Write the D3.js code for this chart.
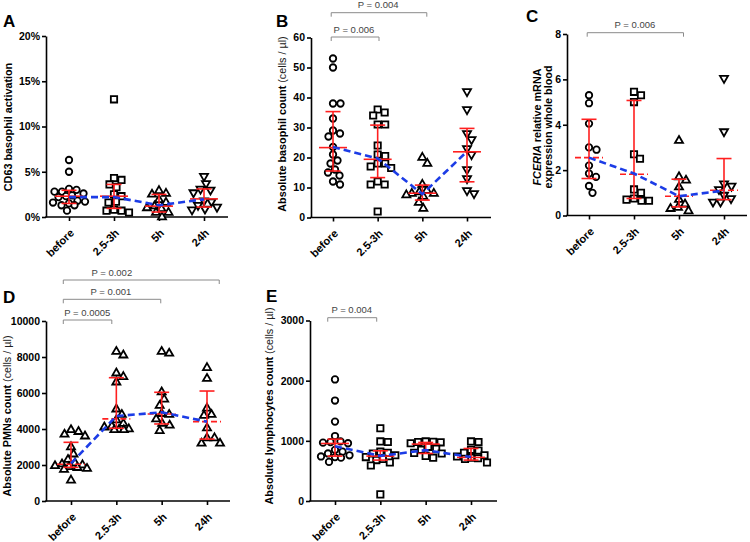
<!DOCTYPE html>
<html>
<head>
<meta charset="utf-8">
<script src="https://cdn.jsdelivr.net/npm/d3@7"></script>
<style>
body { margin: 0; background: #fff; }
text { font-family: "Liberation Sans", Arial, sans-serif; }
</style>
</head>
<body>
<svg id="chart" width="750" height="542"></svg>
<script>
var cats = ["before", "2.5-3h", "5h", "24h"];

// A - CD63 basophil activation (%)
var cd63Points = [
  [6.3, 5.0, 3.1, 3.0, 2.8, 2.8, 2.6, 2.4, 2.3, 2.2, 1.8, 1.7, 1.6, 1.5, 1.3, 1.3, 0.7],
  [13.0, 4.3, 4.1, 3.6, 3.3, 2.5, 2.3, 1.7, 1.6, 0.8, 0.7, 0.7, 0.5],
  [2.9, 2.6, 2.5, 1.9, 1.6, 1.2, 1.0, 0.9, 0.5, 0.5, 0.0],
  [4.5, 3.7, 3.1, 3.0, 2.7, 1.8, 1.7, 1.3, 1.1, 0.9, 0.8]
];
var cd63Median = [2.3, 2.3, 1.2, 2.0];
var cd63Low = [1.5, 0.95, 0.55, 1.1];
var cd63High = [2.95, 3.6, 2.5, 3.1];
var cd63Mean = [2.2, 2.2, 1.3, 1.95];
var cd63Ticks = [0, 5, 10, 15, 20];

// B - absolute basophil count
var basoPoints = [
  [53, 50, 38, 38, 33, 29, 28, 27, 23.5, 21, 19, 18, 16, 15, 14, 12, 11],
  [36, 35, 34, 31, 31, 24, 21, 20.5, 18, 18, 17, 16.5, 12, 11, 11, 2],
  [20, 18, 11, 9, 8.5, 8, 8, 7.5, 7, 5, 3],
  [42, 36, 28, 26, 23, 21, 16, 13, 9, 8]
];
var basoMedian = [23.3, 19.4, 8.1, 21.9];
var basoLow = [15.5, 13.3, 5.8, 11.9];
var basoHigh = [35.3, 30.8, 10.8, 29.7];
var basoMean = [23.5, 19.7, 7.8, 22];
var basoTicks = [0, 10, 20, 30, 40, 50, 60];
var basoP = ["P = 0.006", "P = 0.004"];

// C - FCER1A mRNA
var fcerPoints = [
  [5.3, 4.95, 4.05, 3.0, 2.9, 2.2, 1.85, 1.7, 1.3, 1.0],
  [5.45, 5.3, 5.0, 2.7, 2.5, 1.15, 1.0, 0.75, 0.7, 0.65, 0.65],
  [3.3, 1.7, 1.55, 1.25, 0.7, 0.5, 0.35, 0.3, 0.2],
  [6.05, 3.7, 1.4, 1.3, 1.15, 0.9, 0.75, 0.6, 0.6]
];
var fcerMedian = [2.55, 1.82, 0.85, 1.11];
var fcerLow = [1.63, 0.75, 0.38, 0.7];
var fcerHigh = [4.24, 5.07, 1.6, 2.51];
var fcerMean = [2.55, 1.85, 0.85, 1.1];
var fcerTicks = [0, 2, 4, 6, 8];
var fcerP = ["P = 0.006"];

// D - absolute PMNs count
var pmnPoints = [
  [3950, 3850, 3700, 3600, 3000, 2600, 2300, 2100, 2050, 2000, 1950, 1900, 1850, 1800, 1750, 1150],
  [8300, 8100, 7100, 6900, 6600, 5100, 4800, 4500, 4300, 4150, 4100, 4000, 3950, 3950, 3950],
  [8300, 8200, 6050, 5650, 5300, 4850, 4800, 4550, 4300, 4200, 3900],
  [7400, 6800, 5150, 4800, 4750, 4050, 3500, 3500, 3200, 3200]
];
var pmnMedian = [2040, 4560, 4830, 4410];
var pmnLow = [1870, 4040, 4280, 3440];
var pmnHigh = [3260, 6850, 6040, 6110];
var pmnMean = [2090, 4720, 4930, 4410];
var pmnTicks = [0, 2000, 4000, 6000, 8000, 10000];
var pmnP = ["P = 0.0005", "P = 0.001", "P = 0.002"];

// E - absolute lymphocytes count
var lymPoints = [
  [2020, 1670, 1320, 1080, 990, 980, 970, 960, 850, 820, 790, 760, 740, 730, 720, 650],
  [1210, 990, 980, 820, 800, 790, 760, 730, 700, 680, 640, 590, 110],
  [990, 985, 980, 975, 960, 900, 870, 850, 800, 790, 750, 720],
  [990, 980, 850, 840, 800, 760, 740, 720, 710, 700, 640]
];
var lymMedian = [956, 746, 946, 725];
var lymLow = [746, 680, 790, 680];
var lymHigh = [1028, 834, 973, 873];
var lymMean = [910, 750, 845, 730];
var lymTicks = [0, 1000, 2000, 3000];
var lymP = ["P = 0.004"];

var svg = d3.select("#chart");
var red = "#ff1f1f", blue = "#1c3ce6";

var panels = [
  { letter: "A", lx: 3, ly: 27, x0: 46, x1: 228, c0: 69, c1: 204, y0: 217, y1: 36, max: 20,
    ticks: cd63Ticks, fmt: function(d) { return d + "%"; },
    pts: cd63Points, med: cd63Median, lo: cd63Low, hi: cd63High, mean: cd63Mean,
    shapes: ["circle", "square", "triangle", "down"], medDash: null,
    title: [[{ t: "CD63 basophil activation" }]], tx: [11.5], ty: 127, brackets: [] },
  { letter: "B", lx: 276, ly: 27, x0: 311, x1: 491, c0: 333, c1: 467, y0: 217.5, y1: 37.5, max: 60,
    ticks: basoTicks, fmt: String,
    pts: basoPoints, med: basoMedian, lo: basoLow, hi: basoHigh, mean: basoMean,
    shapes: ["circle", "square", "triangle", "down"], medDash: null,
    title: [[{ t: "Absolute basophil count " }, { t: "(cells / \u00b5l)", n: true }]], tx: [286], ty: 124,
    brackets: [{ a: -0.04, b: 1.03, at: 0.47, y: 37, label: basoP[0] },
               { a: -0.04, b: 2.1, at: 1.01, y: 12.7, label: basoP[1] }] },
  { letter: "C", lx: 526, ly: 22, x0: 567, x1: 747, c0: 589, c1: 724, y0: 215.5, y1: 34, max: 8,
    ticks: fcerTicks, fmt: String,
    pts: fcerPoints, med: fcerMedian, lo: fcerLow, hi: fcerHigh, mean: fcerMean,
    shapes: ["circle", "square", "triangle", "down"], medDash: "6,3",
    title: [[{ t: "FCERIA", i: true }, { t: " relative mRNA" }], [{ t: "expression whole blood" }]],
    tx: [541, 551.5], ty: 127,
    brackets: [{ a: -0.04, b: 2.1, at: 1.02, y: 32.7, label: fcerP[0] }] },
  { letter: "D", lx: 3, ly: 303, x0: 46, x1: 230, c0: 71, c1: 207, y0: 501, y1: 321, max: 10000,
    ticks: pmnTicks, fmt: String,
    pts: pmnPoints, med: pmnMedian, lo: pmnLow, hi: pmnHigh, mean: pmnMean,
    shapes: ["triangle", "triangle", "triangle", "triangle"], medDash: "6,3",
    title: [[{ t: "Absolute PMNs count " }, { t: "(cells / \u00b5l)", n: true }]], tx: [10.5], ty: 416,
    brackets: [{ a: -0.17, b: 0.9, at: 0.36, y: 320, label: pmnP[0] },
               { a: -0.17, b: 1.98, at: 0.88, y: 299.3, label: pmnP[1] },
               { a: -0.17, b: 3.27, at: 0.9, y: 280, label: pmnP[2] }] },
  { letter: "E", lx: 266, ly: 302, x0: 310, x1: 497, c0: 335, c1: 471, y0: 501, y1: 320.5, max: 3000,
    ticks: lymTicks, fmt: String,
    pts: lymPoints, med: lymMedian, lo: lymLow, hi: lymHigh, mean: lymMean,
    shapes: ["circle", "square", "square", "square"], medDash: null,
    title: [[{ t: "Absolute lymphocytes count " }, { t: "(cells / \u00b5l)", n: true }]], tx: [273], ty: 406,
    brackets: [{ a: -0.16, b: 0.92, at: 0.37, y: 317.7, label: lymP[0] }] }
];

var symPath = {
  circle: d3.symbol(d3.symbolCircle, 33)(),
  square: d3.symbol(d3.symbolSquare, 40)(),
  triangle: d3.symbol(d3.symbolTriangle, 28)()
};
symPath.down = symPath.triangle;

// beeswarm kept inside +-maxOff; if it gets crowded, take the least overlapping spot
function swarm(vals, y, cx, d, maxOff) {
  var placed = [];
  return vals.map(function(v) {
    var py = y(v), best = 0, bestDist = -1;
    for (var k = 0; k <= maxOff * 4; k++) {
      var off = (k % 2 ? 1 : -1) * Math.ceil(k / 2) * 0.5;
      var m = Infinity;
      placed.forEach(function(p) {
        var dx = p.x - (cx + off), dy = p.y - py;
        m = Math.min(m, Math.sqrt(dx * dx + dy * dy));
      });
      if (m >= d) { best = off; bestDist = m; break; }
      if (m > bestDist + 0.5) { best = off; bestDist = m; }
    }
    var pt = { x: cx + best, y: py };
    placed.push(pt);
    return pt;
  });
}

function drawPanel(p) {
  var g = svg.append("g");
  var x = d3.scalePoint().domain(cats).range([p.c0, p.c1]);
  var xi = d3.scaleLinear().domain([0, 3]).range([p.c0, p.c1]);
  var y = d3.scaleLinear().domain([0, p.max]).range([p.y0, p.y1]);

  g.append("text").attr("x", p.lx).attr("y", p.ly).text(p.letter)
    .attr("font-size", 17).attr("font-weight", "bold");

  var ya = g.append("g").attr("transform", "translate(" + p.x0 + ",0)")
    .call(d3.axisLeft(y).tickValues(p.ticks).tickFormat(p.fmt).tickSize(4).tickSizeOuter(0).tickPadding(2));
  ya.selectAll("path,line").attr("stroke-width", 1.6);
  ya.selectAll("text").attr("font-size", 10.5).attr("font-weight", "bold")
    .attr("font-family", "Liberation Sans, Arial, sans-serif");

  var xa = g.append("g").attr("transform", "translate(0," + p.y0 + ")")
    .call(d3.axisBottom(x).tickSize(4).tickFormat(""));
  xa.select(".domain").remove();
  xa.selectAll("line").attr("stroke-width", 1.6);
  g.append("line").attr("x1", p.x0 - 0.8).attr("x2", p.x1).attr("y1", p.y0).attr("y2", p.y0)
    .attr("stroke", "#000").attr("stroke-width", 1.6);

  g.selectAll(".xl").data(cats).enter().append("text")
    .attr("transform", function(d) { return "translate(" + (x(d) + 3) + "," + (p.y0 + 14) + ") rotate(-45)"; })
    .attr("text-anchor", "end").attr("dy", "0.35em")
    .attr("font-size", 11).attr("font-weight", "bold").text(function(d) { return d; });

  // axis title
  p.title.forEach(function(line, li) {
    var t = g.append("text")
      .attr("transform", "translate(" + p.tx[li] + "," + p.ty + ") rotate(-90)")
      .attr("text-anchor", "middle").attr("font-size", 10.8).attr("font-weight", "bold");
    line.forEach(function(s) {
      var ts = t.append("tspan").text(s.t);
      if (s.n) ts.attr("font-weight", "normal").attr("fill", "#222");
      if (s.i) ts.attr("font-style", "italic");
    });
  });

  // points
  cats.forEach(function(c, i) {
    var pts = swarm(p.pts[i], y, x(c), 7.5, 16);
    g.selectAll(".pt" + i).data(pts).enter().append("path")
      .attr("d", symPath[p.shapes[i]])
      .attr("transform", function(d) {
        return "translate(" + d.x + "," + d.y + ")" + (p.shapes[i] == "down" ? " rotate(180)" : "");
      })
      .attr("fill", "#fff").attr("stroke", "#000").attr("stroke-width", 1.8);
  });

  // median + IQR
  var eb = g.selectAll(".eb").data(cats).enter().append("g");
  eb.append("line").attr("x1", function(d) { return x(d); }).attr("x2", function(d) { return x(d); })
    .attr("y1", function(d, i) { return y(p.lo[i]); }).attr("y2", function(d, i) { return y(p.hi[i]); });
  eb.append("line").attr("x1", function(d) { return x(d) - 7.5; }).attr("x2", function(d) { return x(d) + 7.5; })
    .attr("y1", function(d, i) { return y(p.lo[i]); }).attr("y2", function(d, i) { return y(p.lo[i]); });
  eb.append("line").attr("x1", function(d) { return x(d) - 7.5; }).attr("x2", function(d) { return x(d) + 7.5; })
    .attr("y1", function(d, i) { return y(p.hi[i]); }).attr("y2", function(d, i) { return y(p.hi[i]); });
  eb.append("line").attr("class", "med").attr("x1", function(d) { return x(d) - 14; }).attr("x2", function(d) { return x(d) + 14; })
    .attr("y1", function(d, i) { return y(p.med[i]); }).attr("y2", function(d, i) { return y(p.med[i]); })
    .attr("stroke-dasharray", p.medDash);
  eb.selectAll("line").attr("stroke", red).attr("stroke-width", 1.6);

  // dashed trend line
  var line = d3.line().x(function(d, i) { return x(cats[i]); }).y(function(d) { return y(d); });
  g.append("path").datum(p.mean).attr("d", line).attr("fill", "none")
    .attr("stroke", blue).attr("stroke-width", 2.6).attr("stroke-dasharray", "7,4");

  // significance brackets
  p.brackets.forEach(function(b) {
    var xa = xi(b.a), xb = xi(b.b);
    g.append("path").attr("d", "M" + xa + "," + (b.y + 4) + "V" + b.y + "H" + xb + "V" + (b.y + 4))
      .attr("fill", "none").attr("stroke", "#8a8a8a").attr("stroke-width", 1);
    g.append("text").attr("x", xi(b.at)).attr("y", b.y - 4.5).attr("text-anchor", "middle")
      .attr("font-size", 9.5).attr("fill", "#444").text(b.label);
  });
}

panels.forEach(drawPanel);
</script>
</body>
</html>
